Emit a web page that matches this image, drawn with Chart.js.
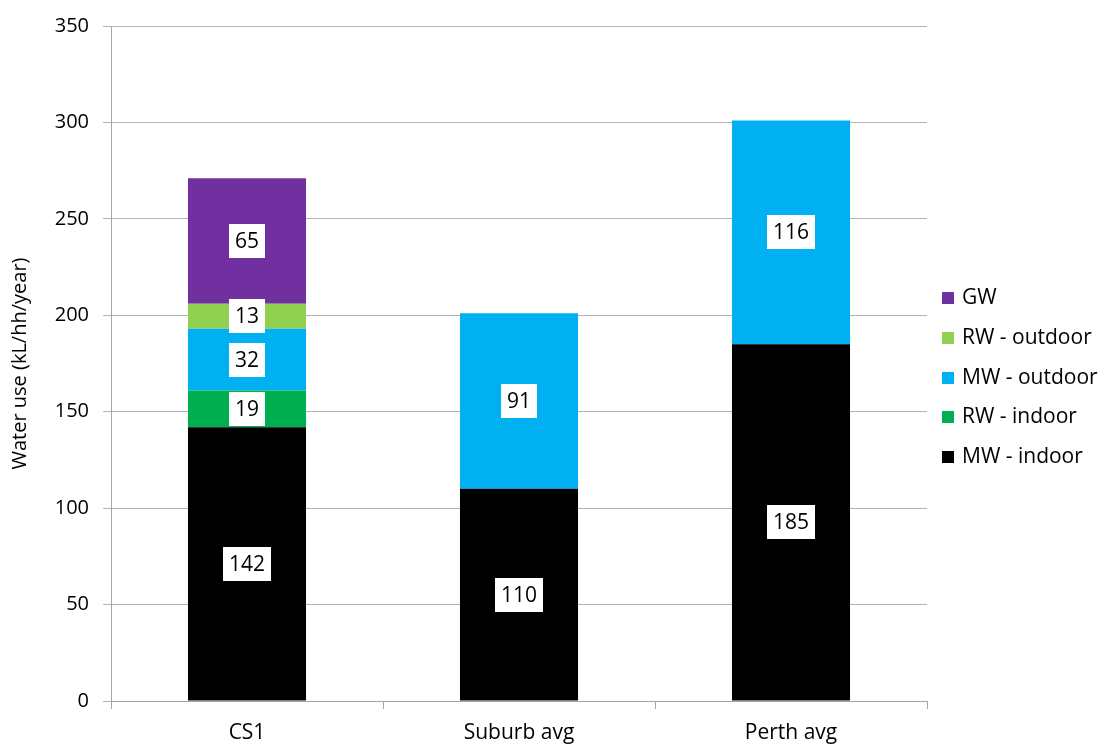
<!DOCTYPE html>
<html>
<head>
<meta charset="utf-8">
<script src="https://cdn.jsdelivr.net/npm/chart.js@4"></script>
<style>
    html, body { margin: 0; padding: 0; background: #fff; }
    #wrap { width: 1109px; height: 744px; }
</style>
</head>
<body>
<div id="wrap"><canvas id="waterChart"></canvas></div>
<script>
const categories = ["CS1", "Suburb avg", "Perth avg"];

// stacked bottom to top
const mwIndoor  = [142, 110, 185];
const rwIndoor  = [19, null, null];
const mwOutdoor = [32, 91, 116];
const rwOutdoor = [13, null, null];
const gw        = [65, null, null];

const yTicks = [0, 50, 100, 150, 200, 250, 300, 350];

const FONT = "'Open Sans', sans-serif";

/* ================= PLUGINS ================= */

// white boxed value labels in the middle of each segment
const valueLabels = {
    id: "valueLabels",
    afterDatasetsDraw(chart) {
        const ctx = chart.ctx;
        ctx.save();
        ctx.font = "21px " + FONT;
        ctx.textAlign = "center";
        ctx.textBaseline = "middle";
        chart.data.datasets.forEach((ds, i) => {
            const meta = chart.getDatasetMeta(i);
            meta.data.forEach((bar, j) => {
                const v = ds.data[j];
                if (v == null) return;
                const txt = String(v);
                const w = ctx.measureText(txt).width + 12;
                const h = 34;
                const cy = (bar.y + bar.base) / 2;
                ctx.fillStyle = "#ffffff";
                ctx.fillRect(Math.round(bar.x - w / 2), Math.round(cy - h / 2), Math.round(w), h);
                ctx.fillStyle = "#000000";
                ctx.fillText(txt, bar.x, cy + 1);
            });
        });
        ctx.restore();
    }
};

// legend on the right, reversed order like the original
const sideLegend = {
    id: "sideLegend",
    afterDraw(chart) {
        const ctx = chart.ctx;
        const items = chart.data.datasets.slice().reverse();
        ctx.save();
        ctx.font = "21px " + FONT;
        ctx.textAlign = "left";
        ctx.textBaseline = "middle";
        items.forEach((ds, k) => {
            const cy = 298 + k * 39.8;
            ctx.fillStyle = ds.backgroundColor;
            ctx.fillRect(942, Math.round(cy - 6), 12, 12);
            ctx.fillStyle = "#000000";
            ctx.fillText(ds.label, 962, cy);
        });
        ctx.restore();
    }
};

/* ================= CHART ================= */

function renderWaterChart() {
    new Chart(document.getElementById("waterChart"), {
        type: "bar",
        data: {
            labels: categories,
            datasets: [
                { label: "MW - indoor",  data: mwIndoor,  backgroundColor: "#000000" },
                { label: "RW - indoor",  data: rwIndoor,  backgroundColor: "#00B050" },
                { label: "MW - outdoor", data: mwOutdoor, backgroundColor: "#00B0F0" },
                { label: "RW - outdoor", data: rwOutdoor, backgroundColor: "#92D050" },
                { label: "GW",           data: gw,        backgroundColor: "#7030A0" }
            ]
        },
        options: {
            responsive: true,
            maintainAspectRatio: false,
            animation: false,
            layout: { padding: { top: 26, right: 182, left: 0, bottom: 0 } },
            datasets: { bar: { categoryPercentage: 1, barPercentage: 0.434 } },
            plugins: {
                legend: { display: false },
                tooltip: { enabled: false }
            },
            scales: {
                x: {
                    stacked: true,
                    grid: {
                        offset: true,
                        drawOnChartArea: false,
                        drawTicks: true,
                        tickLength: 8,
                        color: "#a6a6a6"
                    },
                    border: { color: "#a6a6a6" },
                    ticks: {
                        color: "#000000",
                        padding: 11,
                        font: { family: FONT, size: 21 }
                    },
                    afterFit: (scale) => { scale.height = 43; }
                },
                y: {
                    stacked: true,
                    min: 0,
                    max: 350,
                    afterBuildTicks: (scale) => {
                        scale.ticks = yTicks.map(v => ({ value: v }));
                    },
                    grid: {
                        color: "#b3b3b3",
                        tickLength: 8
                    },
                    border: { color: "#a6a6a6" },
                    ticks: {
                        color: "#000000",
                        padding: 14,
                        font: { family: FONT, size: 20 }
                    },
                    title: {
                        display: true,
                        text: "Water use (kL/hh/year)",
                        color: "#000000",
                        padding: { top: 8, bottom: 0 },
                        font: { family: FONT, size: 20 }
                    },
                    afterFit: (scale) => { scale.width = 111; }
                }
            }
        },
        plugins: [valueLabels, sideLegend]
    });
}

/* ================= START ================= */

renderWaterChart();
</script>
</body>
</html>
